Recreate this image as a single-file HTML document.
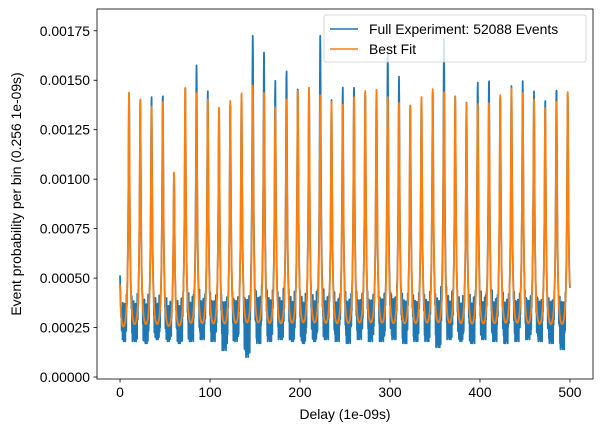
<!DOCTYPE html>
<html><head><meta charset="utf-8"><style>
body{margin:0;background:#fff;}
svg{display:block;font-family:"Liberation Sans",sans-serif;}
</style></head><body>
<svg id="chart" width="602" height="432" viewBox="0 0 602 432" xmlns="http://www.w3.org/2000/svg">
<g id="plot"></g>
</svg>
<script>
const xTicks=[0,100,200,300,400,500];
const yTicks=[0,0.00025,0.0005,0.00075,0.001,0.00125,0.0015,0.00175];
const yTickLabels=["0.00000","0.00025","0.00050","0.00075","0.00100","0.00125","0.00150","0.00175"];
const peakCenters=[-1,10,22.5,35,47.5,60,72.5,85,97.5,110,122.5,135,147.5,160,172.5,185,197.5,210,222.5,235,247.5,260,272.5,285,297.5,310,322.5,335,347.5,360,372.5,385,397.5,410,422.5,435,447.5,460,472.5,485,497.5,502];
const fitPeaks=[0.0008,0.001453,0.001414,0.00138,0.0014,0.00104,0.001475,0.00144,0.00141,0.00137,0.0014,0.00144,0.00148,0.00144,0.00137,0.00141,0.00145,0.00147,0.00143,0.001395,0.001385,0.00142,0.00145,0.00146,0.00142,0.00139,0.00138,0.00142,0.00146,0.00145,0.00142,0.00139,0.00139,0.00139,0.00143,0.00147,0.00144,0.00141,0.00137,0.0014,0.00144,0.0006];
const dataPeaks=[0.0009,0.00145,0.00141,0.00143,0.00145,0.00104,0.00147,0.00158,0.00145,0.00137,0.0014,0.00144,0.00173,0.00164,0.0015,0.00156,0.00148,0.00147,0.00173,0.0014,0.00147,0.00148,0.00145,0.00146,0.00165,0.00152,0.00138,0.00143,0.00146,0.00172,0.00142,0.00139,0.0015,0.00152,0.00143,0.00148,0.0015,0.00145,0.00141,0.00148,0.00144,0.0006];
const troughLows=[0.00016,0.00016,0.00015,0.00017,0.00016,0.00015,0.00016,0.00017,0.00016,0.000115,0.00016,0.00008,0.00015,0.00016,0.00017,0.00016,0.00015,0.00016,0.00017,0.00016,0.00015,0.00017,0.00016,0.00016,0.00017,0.00015,0.00016,0.00016,0.00013,0.00017,0.00016,0.00015,0.00017,0.00016,0.00015,0.00016,0.00017,0.00016,0.00015,0.00012,0.00016];
const jitter=[0.1,0.9,0.35,1,0.2,0.75,0.5,0.95,0.05,0.6,0.85,0.3,1,0.15,0.7,0.45];

const L=97,R=593,T=9,B=379;
const xMin=-25.6,xMax=525.6,yMin=-0.00001,yMax=0.00186;
const X=v=>L+(v-xMin)/(xMax-xMin)*(R-L);
const Y=v=>B-(v-yMin)/(yMax-yMin)*(B-T);
const base=0.00017;
function model(x,peaks){
  let s=base;
  for(let i=0;i<peakCenters.length;i++){
    const A=peaks[i]-base-0.00004, d=x-peakCenters[i];
    s+=A*(0.85/(1+(d/0.8)**2)+0.15/(1+(d/2.5)**2));
  }
  return s;
}
const ns="http://www.w3.org/2000/svg";
const svg=document.getElementById('chart');
function mk(tag,attrs,parent){const e=document.createElementNS(ns,tag);for(const k in attrs)e.setAttribute(k,attrs[k]);(parent||svg).appendChild(e);return e;}
const plot=document.getElementById('plot');

let pts=[];let j=0;
for(let x=0;x<=500.001;x+=0.256){
  let f=model(x,dataPeaks);
  let k=Math.floor((x-10)/12.5)+1; if(k<0)k=0; if(k>40)k=40;
  let dmin=Math.min(...peakCenters.map(c=>Math.abs(x-c)));
  let v=f;
  if(dmin>2){
    const lo=troughLows[k]+0.00002, hi=Math.max(f+0.00012,lo);
    const p=jitter[j%jitter.length];j++;
    const w=Math.min(1,(dmin-2)/1.5);
    v=f*(1-w)+(hi-p*(hi-lo))*w;
  }
  pts.push(X(x).toFixed(2)+','+Y(v).toFixed(2));
}
const blue=mk('polyline',{points:pts.join(' '),fill:'none',stroke:'#1f77b4','stroke-width':1.8,'stroke-linejoin':'round'},plot);


let pts2=[];
for(let x=0;x<=500.001;x+=0.128){pts2.push(X(x).toFixed(2)+','+Y(model(x,fitPeaks)).toFixed(2));}
const orange=mk('polyline',{points:pts2.join(' '),fill:'none',stroke:'#ff7f0e','stroke-width':1.8,'stroke-linejoin':'round'},plot);



const fr=mk('rect',{x:L,y:T,width:R-L,height:B-T,fill:'none',stroke:'#000','stroke-width':0.8});


xTicks.forEach(t=>{
  const tl=mk('line',{x1:X(t),x2:X(t),y1:B,y2:B+3.5,stroke:'#000','stroke-width':0.8});
  
  
  const tx=mk('text',{x:X(t),y:B+18,'text-anchor':'middle','font-size':13.9,fill:'#000'});
  tx.textContent=t;
  
  
});
yTicks.forEach((t,i)=>{
  const tl=mk('line',{x1:L-3.5,x2:L,y1:Y(t),y2:Y(t),stroke:'#000','stroke-width':0.8});
  
  
  const tx=mk('text',{x:L-7,y:Y(t)+5,'text-anchor':'end','font-size':13.9,fill:'#000'});
  tx.textContent=yTickLabels[i];
  
  
});
</script>
<svg style="position:absolute;left:0;top:0" width="602" height="432">
<text x="345" y="419" text-anchor="middle" font-size="13.9" font-family="Liberation Sans, sans-serif">Delay (1e-09s)</text>
<text x="0" y="0" transform="translate(21,194) rotate(-90)" text-anchor="middle" font-size="13.9" font-family="Liberation Sans, sans-serif">Event probability per bin (0.256 1e-09s)</text>
<g>
<rect x="324" y="15" width="262" height="47" rx="2" fill="#fff" fill-opacity="0.8" stroke="#ccc" stroke-width="0.8"/>
<line x1="330" x2="358" y1="29" y2="29" stroke="#1f77b4" stroke-width="1.5"/>
<text x="369" y="34" font-size="13.9" font-family="Liberation Sans, sans-serif">Full Experiment: 52088 Events</text>
<line x1="330" x2="358" y1="49" y2="49" stroke="#ff7f0e" stroke-width="1.5"/>
<text x="369" y="54" font-size="13.9" font-family="Liberation Sans, sans-serif">Best Fit</text>
</g>
</svg>
</body></html>
